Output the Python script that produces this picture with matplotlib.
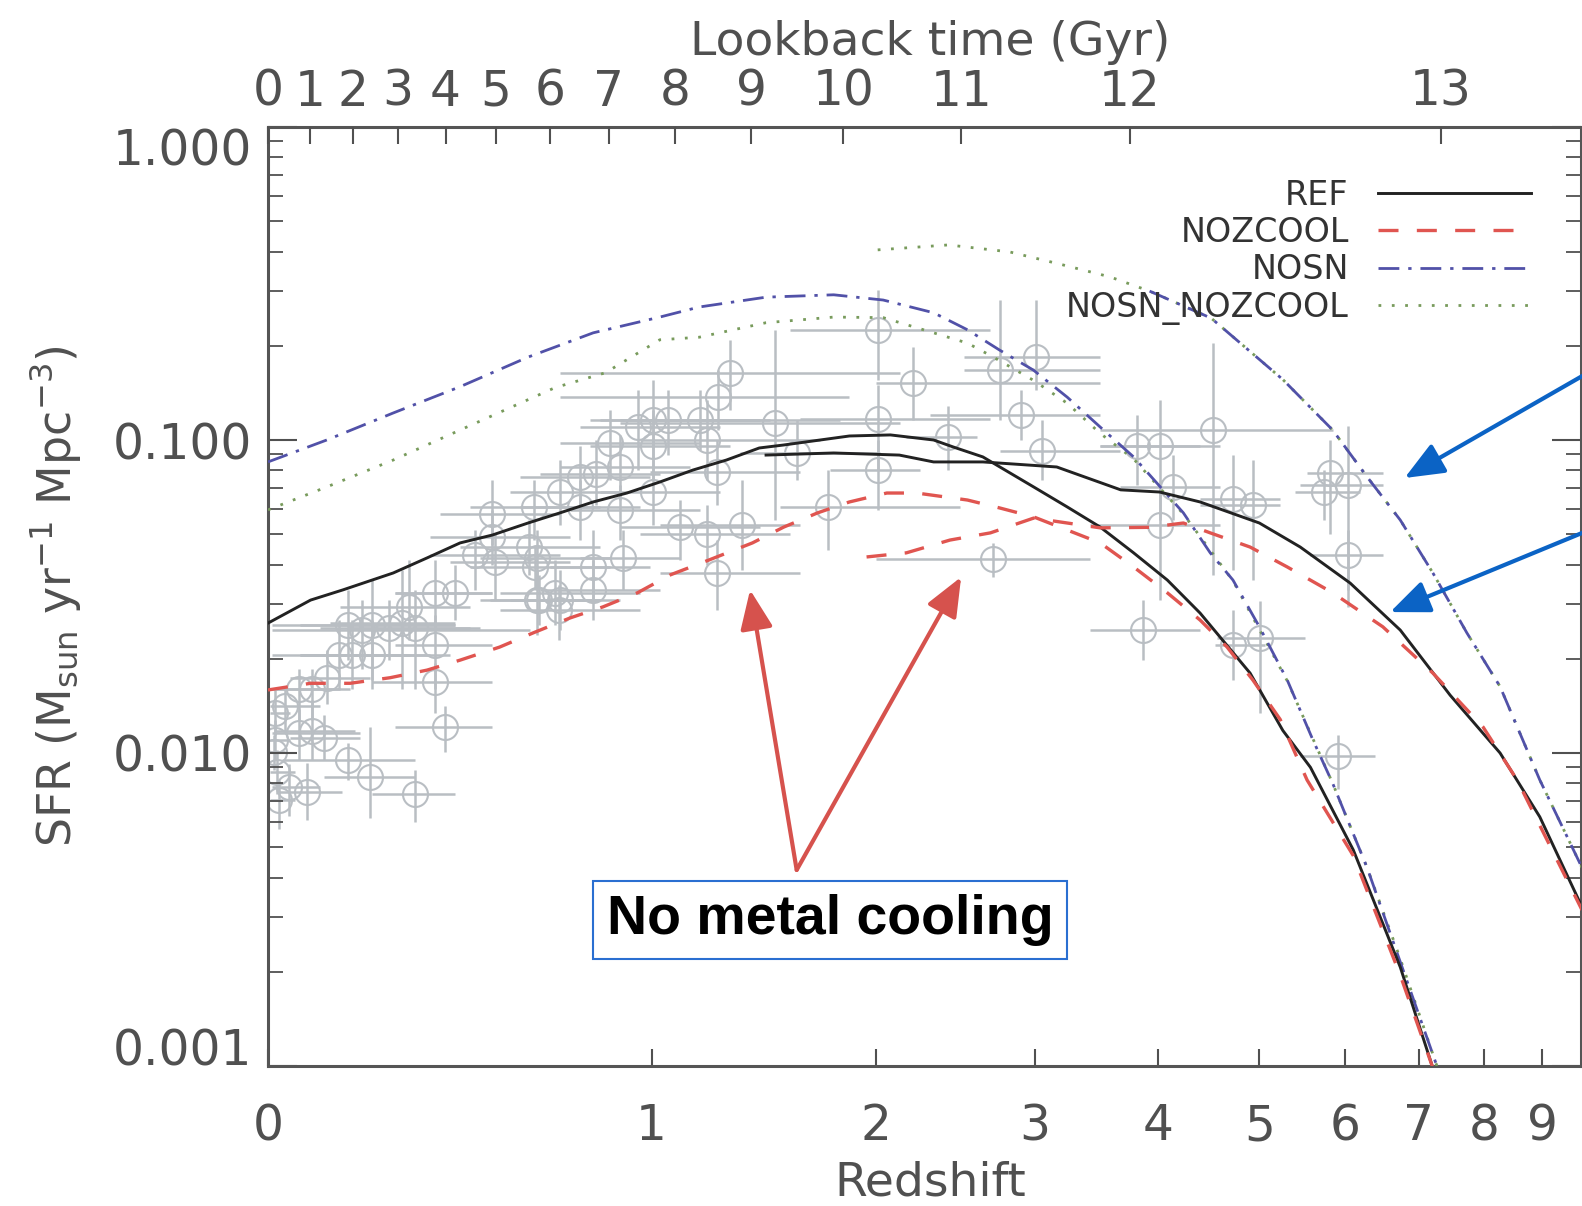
import numpy as np
import matplotlib
matplotlib.use('Agg')
import matplotlib.pyplot as plt
from matplotlib.ticker import FixedLocator, NullFormatter, LogLocator

plt.rcParams['font.family'] = ['DejaVu Sans']
plt.rcParams['mathtext.default'] = 'regular'

# ---- simulations: large box (from z=0) ----
ref_z = [0, 0.08, 0.145, 0.254, 0.333, 0.415, 0.50, 0.60, 0.695, 0.80, 0.913, 1.03, 1.156, 1.29,
         1.43, 1.54, 1.86, 2.08, 2.33, 2.45, 2.64, 2.99, 3.24, 3.50, 3.78, 4.08, 4.39, 4.90, 5.26,
         5.58, 6.11, 6.74, 7.2, 7.3]
ref_sfr = [0.026, 0.0308, 0.0332, 0.0376, 0.042, 0.0469, 0.0497, 0.0543, 0.0585, 0.0634, 0.0677,
           0.0734, 0.0802, 0.0863, 0.0943, 0.0964, 0.103, 0.1038, 0.100, 0.095, 0.0883, 0.0708,
           0.0611, 0.0527, 0.0436, 0.0357, 0.028, 0.018, 0.0118, 0.009, 0.0049, 0.00207, 0.001, 0.0008]

nozcool_z = [0, 0.08, 0.16, 0.247, 0.333, 0.415, 0.52, 0.615, 0.726, 0.832, 0.95, 1.07, 1.22, 1.40,
             1.54, 1.70, 1.86, 2.06, 2.23, 2.54, 2.75, 2.99, 3.50, 3.78, 4.08, 4.39, 4.66, 4.93,
             5.23, 5.54, 6.11, 6.74, 7.2, 7.3]
nozcool_sfr = [0.0159, 0.0167, 0.0167, 0.0174, 0.0184, 0.0198, 0.0218, 0.0242, 0.027, 0.0293, 0.0325,
               0.0371, 0.0414, 0.0469, 0.0527, 0.0585, 0.0634, 0.0677, 0.0677, 0.0643, 0.0607, 0.0568,
               0.0469, 0.0393, 0.0325, 0.0266, 0.0218, 0.0171, 0.0128, 0.0082, 0.0047, 0.00195,
               0.001, 0.0008]

nosn_z = [0, 0.112, 0.254, 0.415, 0.60, 0.80, 1.03, 1.18, 1.46, 1.78, 2.04, 2.33, 2.54, 2.75, 2.99,
          3.24, 3.50, 3.78, 4.23, 4.49, 4.72, 5.0, 5.31, 5.61, 5.85, 6.29, 6.74, 7.27, 7.4]
nosn_sfr = [0.0851, 0.100, 0.122, 0.148, 0.184, 0.220, 0.247, 0.266, 0.286, 0.291, 0.280, 0.255,
            0.225, 0.194, 0.167, 0.137, 0.110, 0.0883, 0.0585, 0.0436, 0.0357, 0.0253, 0.0171,
            0.0110, 0.0080, 0.0043, 0.00215, 0.001, 0.0008]

nosn_nozcool_z = [0, 0.112, 0.254, 0.415, 0.68, 0.84, 1.03, 1.18, 1.46, 1.78, 2.04, 2.33, 2.54, 2.71,
                  2.99, 3.24, 3.50, 3.78, 4.23, 4.72, 5.31, 5.85, 6.29, 6.74, 7.27, 7.4]
nosn_nozcool_sfr = [0.0598, 0.0708, 0.0863, 0.1076, 0.147, 0.164, 0.209, 0.213, 0.237, 0.247, 0.246,
                    0.220, 0.204, 0.184, 0.155, 0.131, 0.105, 0.087, 0.058, 0.0355, 0.017, 0.0080,
                    0.0043, 0.0022, 0.001, 0.0008]

# ---- simulations: small box (high z) ----
ref_hz_z = [1.46, 1.78, 2.13, 2.33, 2.64, 3.16, 3.67, 4.01, 4.39, 5.0, 5.46, 6.07, 6.74, 7.47, 8.27,
            8.96, 9.75]
ref_hz_sfr = [0.0895, 0.0909, 0.0895, 0.0851, 0.0851, 0.082, 0.0693, 0.0682, 0.0634, 0.0543, 0.0455,
              0.0349, 0.0247, 0.0153, 0.0100, 0.00625, 0.00322]

nozcool_hz_z = [1.95, 2.17, 2.43, 2.69, 2.99, 3.24, 3.50, 3.92, 4.23, 4.49, 4.90, 5.31, 5.85, 6.50,
                7.21, 7.99, 8.56, 9.75]
nozcool_hz_sfr = [0.0423, 0.0436, 0.0479, 0.0505, 0.0563, 0.0543, 0.0524, 0.0526, 0.0543, 0.0505,
                  0.0455, 0.0393, 0.0325, 0.0253, 0.018, 0.0121, 0.0082, 0.00315]

nosn_hz_z = [3.92, 4.50, 5.26, 5.85, 6.29, 6.74, 7.21, 7.73, 8.27, 8.96, 9.75]
nosn_hz_sfr = [0.299, 0.245, 0.156, 0.1076, 0.0762, 0.0555, 0.0376, 0.0242, 0.0163, 0.0082, 0.0043]

nosn_nozcool_hz_z = [2.01, 2.42, 2.82, 3.18, 3.58, 3.92, 4.50, 5.26, 5.85, 6.29, 6.74, 7.21, 7.73,
                     8.27, 8.96, 9.75]
nosn_nozcool_hz_sfr = [0.405, 0.42, 0.399, 0.365, 0.332, 0.299, 0.245, 0.156, 0.1076, 0.0762, 0.0555,
                       0.0376, 0.0242, 0.0163, 0.0082, 0.0043]

# ---- observational compilation ----
obs_z = [.155, .185, .206, .245, .273, .304, .290, .352, .402, .352, .137, .206, .164, .112, .083,
         .058, .031, .058, .083, .107, .155, .202, .304, .073, .039, .352, .377, .013, .013, .016,
         .020, .010, .455, .508, .603, .62, .632, .68, .692, .50, .50, .616, .695, .758, .81, .758,
         .855, .889, .889, .95, 1.005, 1.06, 1.005, 1.005, 1.184, 1.21, 1.25, 1.305, 1.255, 1.106,
         1.21, 1.356, 1.25, .80, .80, .90, .695, .626, .626, 1.50, 1.60, 1.75, 2.01, 2.01, 2.01,
         2.21, 2.42, 2.754, 3.01, 2.90, 3.05, 2.71, 3.81, 4.014, 4.014, 4.13, 3.86, 4.52, 4.72,
         4.93, 5.82, 5.74, 6.04, 6.04, 4.72, 5.006, 5.92]
obs_zlo = [.007, .007, .060, .098, .119, .160, .139, .258, .258, .258, .007, .060, .060, .041, .013,
           .007, .004, .007, .013, .041, .026, .107, .206, .020, .007, .206, .258, .004, .004, .004,
           .004, .004, .340, .390, .415, .441, .467, .521, .521, .365, .340, .441, .549, .577, .635,
           .577, .695, .695, .726, .758, .789, .823, .789, .823, .889, .959, .994, .695, .695, .889,
           .959, 1.031, 1.031, .665, .635, .758, .549, .494, .467, .889, 1.347, 1.523, 1.569, 1.616,
           1.76, 2.0, 2.17, 2.52, 2.52, 2.31, 2.754, 2.0, 3.50, 3.50, 3.42, 3.665, 3.42, 3.50,
           4.391, 4.391, 5.54, 5.40, 5.457, 5.58, 4.54, 4.56, 5.457]
obs_zhi = [.402, .606, .402, .441, .402, .467, .441, .50, .50, .50, .293, .390, .340, .202, .160,
           .139, .098, .181, .170, .181, .304, .304, .402, .143, .098, .50, .50, .041, .041, .050,
           .050, .031, .695, .726, .823, .855, .823, .959, .959, .695, .726, .823, .889, .994, 1.031,
           .959, 1.184, 1.144, 1.184, 1.264, 1.434, 1.477, 1.305, 1.264, 1.812, 1.713, 1.616, 2.134,
           1.86, 1.434, 1.569, 1.616, 1.616, .994, 1.031, 1.106, .889, .823, .855, 2.134, 2.022,
           2.494, 2.69, 2.69, 2.25, 3.50, 2.60, 3.50, 3.50, 3.50, 3.665, 3.42, 4.391, 4.589, 4.589,
           4.589, 4.391, 5.85, 5.229, 5.229, 6.50, 6.196, 6.50, 6.50, 5.06, 5.51, 6.40]
obs_sfr = [.0256, .0247, .0256, .025, .026, .025, .0292, .0325, .0325, .0222, .0206, .0206, .0206,
           .0174, .016, .016, .0141, .0116, .0118, .0112, .0095, .0084, .0074, .0075, .0078, .0168,
           .0121, .0134, .011, .0087, .0071, .0101, .043, .0407, .0455, .0393, .0308, .0325, .0286,
           .058, .049, .061, .068, .076, .078, .061, .098, .082, .0597, .110, .1158, .1158, .096,
           .068, .1158, .100, .079, .164, .137, .0527, .050, .0535, .0376, .0393, .0332, .042,
           .0308, .0308, .042, .113, .091, .061, .2245, .117, .0802, .152, .102, .167, .184, .120,
           .092, .0418, .096, .096, .0535, .071, .0247, .108, .065, .062, .0785, .068, .072, .043,
           .0221, .0233, .0098]
obs_lo = [.0198, .0185, .0171, .0198, .016, .016, .023, .026, .0266, .016, .016, .016, .016, .0143,
          .01275, .01275, .0118, .0095, .0095, .0095, .0082, .0062, .006, .0061, .0063, .0134, .0101,
          .0114, .0095, .0074, .0057, .0088, .0332, .0308, .037, .0332, .0256, .0256, .023, .0462,
          .0399, .0479, .0535, .0597, .062, .0479, .0745, .0643, .0479, .0802, .0863, .0895, .0745,
          .0535, .0929, .0745, .062, .1247, .1076, .0414, .0399, .0385, .0286, .0308, .0266, .0332,
          .0247, .0238, .0332, .0555, .0745, .0445, .1555, .0802, .0597, .1158, .0802, .1158, .1445,
          .100, .0745, .0365, .072, .0555, .0308, .0555, .0198, .037, .0385, .0357, .050, .0555,
          .0292, .0332, .0171, .0134, .0077]
obs_hi = [.0332, .0308, .0357, .0308, .0385, .0332, .0414, .0414, .0399, .0276, .0266, .0266, .0266,
          .0214, .0185, .0185, .016, .0138, .0148, .0132, .0108, .0121, .0088, .0093, .0092, .0194,
          .0141, .016, .01275, .0102, .0082, .0114, .0516, .050, .0555, .0462, .037, .0414, .0344,
          .0745, .0597, .0745, .0863, .096, .100, .0745, .1247, .104, .072, .1445, .1555, .1445,
          .1247, .0863, .1445, .1342, .100, .2087, .1673, .0643, .062, .0745, .0479, .0516, .0414,
          .0516, .0385, .0385, .0516, .2245, .1158, .0802, .302, .150, .100, .198, .128, .280, .280,
          .1445, .1158, .047, .120, .1342, .0745, .0895, .0308, .204, .0895, .0863, .100, .0802,
          .111, .0516, .0286, .0305, .0114]

# lookback-time axis (WMAP3-like flat LCDM)
lookback_gyr = list(range(14))
h0, om, ol = 0.73, 0.238, 0.762

x_ticks = list(range(10))
y_ticks = [0.001, 0.01, 0.1, 1.0]
y_labels = ['0.001', '0.010', '0.100', '1.000']


def fwd(z):
    return np.log10(np.clip(1 + np.asarray(z, dtype=float), 1e-6, None))


def inv(x):
    return 10 ** np.asarray(x, dtype=float) - 1


th = 977.8 / (100 * h0)
pref = (2.0 / 3.0) * th / np.sqrt(ol)
age0 = pref * np.arcsinh(np.sqrt(ol / om))
ages = age0 - np.array(lookback_gyr, dtype=float)
top_z = (np.sqrt(ol / om) / np.sinh(ages / pref)) ** (2.0 / 3.0) - 1

grey = '#b9bec3'
tick_c = '#505050'

fig = plt.figure(figsize=(15.82, 12.06), dpi=100)
ax = fig.add_axes([268 / 1582, 140 / 1206, 1313 / 1582, 939 / 1206])
ax.set_xscale('function', functions=(fwd, inv))
ax.set_yscale('log')

z = np.array(obs_z)
s = np.array(obs_sfr)
ax.errorbar(z, s, xerr=[z - np.array(obs_zlo), np.array(obs_zhi) - z],
            yerr=[s - np.array(obs_lo), np.array(obs_hi) - s],
            fmt='o', ms=18, mfc='none', mec=grey, mew=1.5, ecolor=grey, elinewidth=1.8,
            capsize=0, zorder=1)

ref_style = dict(color='#222222', lw=2.1, ls='-')
noz_style = dict(color='#e05550', lw=2.4, dashes=(6, 5.5))
nosn_style = dict(color='#5151a8', lw=2.0, dashes=(7.5, 3.2, 1.2, 3.2))
nn_style = dict(color='#789b5c', lw=2.0, dashes=(1, 3.8))

h_nn, = ax.plot(nosn_nozcool_z, nosn_nozcool_sfr, zorder=3, **nn_style)
ax.plot(nosn_nozcool_hz_z, nosn_nozcool_hz_sfr, zorder=3, **nn_style)
h_nosn, = ax.plot(nosn_z, nosn_sfr, zorder=3, **nosn_style)
ax.plot(nosn_hz_z, nosn_hz_sfr, zorder=3, **nosn_style)
h_ref, = ax.plot(ref_z, ref_sfr, zorder=3, **ref_style)
ax.plot(ref_hz_z, ref_hz_sfr, zorder=3, **ref_style)
h_noz, = ax.plot(nozcool_z, nozcool_sfr, zorder=4, **noz_style)
ax.plot(nozcool_hz_z, nozcool_hz_sfr, zorder=4, **noz_style)

ax.set_xlim(0, 9.73)
ax.set_ylim(0.001, 1.0)

ax.xaxis.set_major_locator(FixedLocator(x_ticks))
ax.set_xticklabels([str(v) for v in x_ticks])
ax.xaxis.set_minor_locator(FixedLocator([]))
ax.set_yticks(y_ticks)
ax.set_yticklabels(y_labels)
ax.yaxis.set_minor_locator(LogLocator(base=10, subs=np.arange(2, 10)))
ax.yaxis.set_minor_formatter(NullFormatter())

ax.tick_params(axis='x', which='major', direction='in', length=12, width=1.5, color=tick_c,
               labelsize=35, labelcolor=tick_c, pad=26, top=False)
ax.tick_params(axis='y', which='major', direction='in', length=21, width=1.5, color=tick_c,
               labelsize=35, labelcolor=tick_c, pad=11.5, right=True)
ax.tick_params(axis='y', which='minor', direction='in', length=11, width=1.3, color=tick_c,
               right=True)
ylabs = ax.get_yticklabels()
ylabs[0].set_va('baseline')
ylabs[-1].set_va('top')

for sp in ax.spines.values():
    sp.set_color('#555555')
    sp.set_linewidth(2.2)

ax.set_xlabel('Redshift', fontsize=34, color=tick_c)
ax.xaxis.set_label_coords(0.504, -0.101)
ax.set_ylabel(r'SFR (M$_{\rm sun}$ yr$^{-1}$ Mpc$^{-3}$)', fontsize=33, color=tick_c, va='center')
ax.yaxis.set_label_coords(-0.162, 0.5)

ax2 = ax.twiny()
ax2.set_xscale('function', functions=(fwd, inv))
ax2.set_xlim(ax.get_xlim())
ax2.xaxis.set_major_locator(FixedLocator(top_z))
ax2.set_xticklabels([str(v) for v in lookback_gyr])
ax2.xaxis.set_minor_locator(FixedLocator([]))
ax2.tick_params(axis='x', which='major', direction='in', length=12, width=1.5, color=tick_c,
                labelsize=35, labelcolor=tick_c, pad=8)
for sp in ax2.spines.values():
    sp.set_visible(False)
ax2.set_xlabel('Lookback time (Gyr)', fontsize=34, color=tick_c)
ax2.xaxis.set_label_coords(0.504, 1.077)

leg = ax.legend(handles=[h_ref, h_noz, h_nosn, h_nn],
                labels=['REF', 'NOZCOOL', 'NOSN', 'NOSN_NOZCOOL'],
                loc='upper right', bbox_to_anchor=(0.962, 0.945), frameon=False,
                markerfirst=False, handlelength=4.6, handletextpad=0.87, labelspacing=0.13,
                borderpad=0, borderaxespad=0,
                prop={'family': 'Liberation Sans Narrow', 'size': 24})
for t in leg.get_texts():
    t.set_color('#333333')

# annotations
blue = '#0b63c5'
red = '#d6524d'
arrow_kw = dict(arrowstyle='-|>,head_length=1.2,head_width=0.5', lw=3, shrinkA=0, shrinkB=0,
                mutation_scale=20)
ax.annotate('', xy=(6.80, 0.0756), xytext=(11.2, 0.215),
            arrowprops=dict(color=blue, **arrow_kw), annotation_clip=False, zorder=6)
ax.annotate('', xy=(6.60, 0.0282), xytext=(11.2, 0.0624),
            arrowprops=dict(color=blue, **arrow_kw), annotation_clip=False, zorder=6)
ax.annotate('', xy=(1.39, 0.0332), xytext=(1.60, 0.00423),
            arrowprops=dict(color=red, **arrow_kw), zorder=6)
ax.annotate('', xy=(2.50, 0.0365), xytext=(1.60, 0.00423),
            arrowprops=dict(color=red, **arrow_kw), zorder=6)
ax.text(0.428, 0.1555, 'No metal cooling', transform=ax.transAxes, ha='center', va='center',
        fontsize=40, fontweight='bold', family='Liberation Sans', color='black', zorder=7,
        bbox=dict(boxstyle='square,pad=0.24', fc='white', ec='#2a6fd1', lw=1.5))

fig.savefig('out.png', dpi=100)
